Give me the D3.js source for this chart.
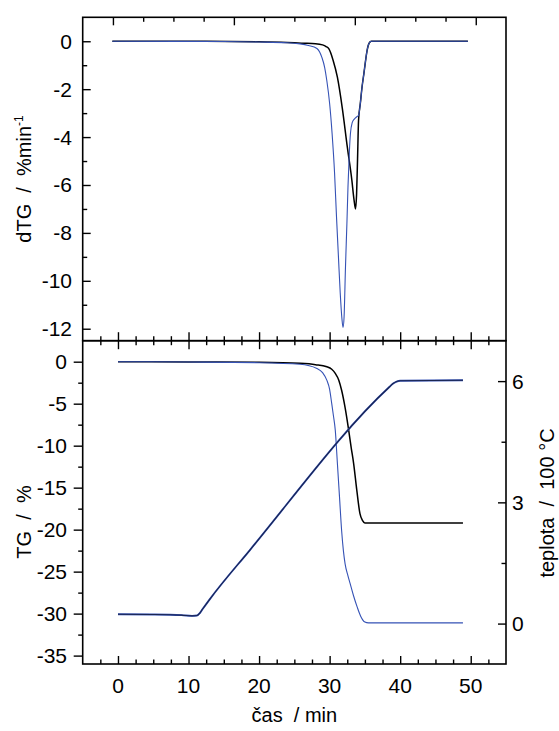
<!DOCTYPE html>
<html>
<head>
<meta charset="utf-8">
<script src="https://cdn.jsdelivr.net/npm/d3@7"></script>
<style>
  body { margin: 0; background: #fff; }
  svg { font-family: "Liberation Sans", Arial, sans-serif; }
  .frame { fill: none; stroke: #000; stroke-width: 1.6; }
  .tk line { stroke: #000; stroke-width: 1.4; }
  .tk path { display: none; }
  .lbl { font-size: 21px; fill: #000; }
  .ttl { font-size: 20px; fill: #000; white-space: pre; }
</style>
</head>
<body>
<div class="chart"></div>
<script>
// time in min
var dtgBlack = [[-0.8,0],[10,0],[20,-0.02],[24,-0.05],[26,-0.08],[28,-0.1],[29,-0.15],[29.5,-0.22],[29.9,-0.32],
  [30.5,-0.8],[31.1,-1.5],[31.8,-2.8],[32.5,-4.4],[33.15,-5.8],[33.45,-6.6],[33.67,-7.0],[33.82,-6.4],[33.96,-4.9],
  [34.1,-3.3],[34.35,-2.6],[34.6,-1.9],[34.85,-1.36],[35.1,-0.8],[35.3,-0.4],[35.6,-0.08],[35.9,0],[49.6,0]];
var dtgBlue = [[-0.8,0],[15,-0.01],[20,-0.03],[24,-0.06],[25.8,-0.11],[27,-0.18],[28.2,-0.3],[28.9,-0.67],[29.3,-1.1],
  [29.6,-1.64],[30.0,-2.6],[30.35,-3.85],[30.7,-5.5],[30.97,-7.3],[31.25,-9.0],[31.5,-10.5],[31.75,-11.6],[31.9,-11.95],
  [32.05,-11.5],[32.25,-9.4],[32.45,-7.6],[32.6,-6.1],[32.8,-4.6],[32.95,-3.85],[33.2,-3.4],[33.5,-3.25],[33.86,-3.15],
  [34.1,-3.1],[34.35,-2.6],[34.6,-1.9],[34.85,-1.36],[35.1,-0.8],[35.3,-0.4],[35.6,-0.08],[35.9,0],[49.6,0]];

var tgBlack = [[0,0],[10,-0.03],[20,-0.08],[25.8,-0.2],[28,-0.35],[29.6,-0.6],[30.3,-0.9],[30.8,-1.4],[31.3,-2.2],
  [31.7,-3.4],[32.2,-5.5],[32.7,-8.15],[33.05,-10.2],[33.4,-12.1],[33.85,-15.3],[34.3,-18.1],[34.65,-18.9],[35.0,-19.2],[48.9,-19.2]];
var tgBlue = [[0,0],[10,-0.04],[20,-0.12],[25.8,-0.3],[28.2,-0.8],[29.0,-1.3],[29.6,-2.2],[30.0,-3.3],[30.3,-5],
  [30.55,-6.5],[30.8,-8.15],[31.1,-12.1],[31.4,-16.1],[31.7,-20.1],[31.95,-22.5],[32.2,-24.1],[32.6,-25.5],[32.9,-26.4],
  [33.4,-27.9],[33.9,-29.2],[34.4,-30.3],[35.0,-31.0],[35.5,-31.1],[48.9,-31.1]];

// teplota in 100 °C
var tempBlack = [[0,0.23],[5,0.225],[9,0.21],[10.5,0.19],[11.2,0.2],[11.6,0.26],[12,0.36],[13,0.6],[18.7,1.82],
  [38.5,5.86],[39,5.94],[39.5,5.99],[40,6.01],[48.9,6.02]];
var tempBlue = [[0,0.23],[5,0.225],[9,0.21],[10.5,0.19],[11.2,0.2],[11.6,0.26],[12,0.36],[13,0.6],[18.7,1.82],
  [38.5,5.86],[39,5.94],[39.5,5.99],[40,6.01],[48.9,6.02]];

var xMajor = [0,10,20,30,40,50];
var xMinor = [-2.5,2.5,5,7.5,12.5,15,17.5,22.5,25,27.5,32.5,35,37.5,42.5,45,47.5,52.5];
var topMajor = [0,100,200,300];
var topMinor = [25,50,75,125,150,175,225,250,275];
var dtgMajor = [0,-2,-4,-6,-8,-10,-12];
var dtgMinor = [-1,-3,-5,-7,-9,-11];
var tgMajor = [0,-5,-10,-15,-20,-25,-30,-35];
var tgMinor = [-2.5,-7.5,-12.5,-17.5,-22.5,-27.5,-32.5];
var tempMajor = [0,3,6];
var tempMinor = [1.5,4.5];

var L = 82.7, R = 506, T1 = 17.3, B1 = 340.7, T2 = 340.7, B2 = 664;
var blue = "#3552b5";

var svg = d3.select(".chart").append("svg").attr("width",559).attr("height",731);

var x = d3.scaleLinear().domain([-5,55]).range([L,R]);
var xTop = d3.scaleLinear().domain([-25,325]).range([L,R]);
var y1 = d3.scaleLinear().domain([-12.5,1]).range([B1,T1]);
var y2 = d3.scaleLinear().domain([-36,2.5]).range([B2,T2]);
var y3 = d3.scaleLinear().domain([-1,7]).range([B2,T2]);

// tick marks only, labels are placed separately
function ticks(axis, vals, size, tr) {
  return svg.append("g").attr("class","tk").attr("transform",tr)
    .call(axis.tickValues(vals).tickSizeInner(size).tickSizeOuter(0).tickFormat(""));
}

// top panel: ticks point inward
ticks(d3.axisLeft(y1), dtgMajor, -8, "translate("+L+",0)");
ticks(d3.axisLeft(y1), dtgMinor, -4.5, "translate("+L+",0)");
svg.append("g").selectAll("text").data(dtgMajor).enter().append("text").attr("class","lbl")
  .attr("x", 72).attr("y", function(d){ return y1(d)+7.5; })
  .attr("text-anchor","end").text(function(d){ return d; });
ticks(d3.axisTop(xTop), topMajor, -8, "translate(0,"+T1+")");
ticks(d3.axisTop(xTop), topMinor, -4.5, "translate(0,"+T1+")");
ticks(d3.axisBottom(x), xMajor, -8.5, "translate(0,"+B1+")");
ticks(d3.axisBottom(x), xMinor, -4.5, "translate(0,"+B1+")");

// bottom panel
ticks(d3.axisLeft(y2), tgMajor, 9, "translate("+L+",0)");
ticks(d3.axisLeft(y2), tgMinor, 4.5, "translate("+L+",0)");
svg.append("g").selectAll("text").data(tgMajor).enter().append("text").attr("class","lbl")
  .attr("x", 67).attr("y", function(d){ return y2(d)+7.5; })
  .attr("text-anchor","end").text(function(d){ return d; });
ticks(d3.axisTop(x), xMajor, -8.5, "translate(0,"+T2+")");
ticks(d3.axisTop(x), xMinor, -4.5, "translate(0,"+T2+")");
ticks(d3.axisBottom(x), xMajor, -8, "translate(0,"+B2+")");
ticks(d3.axisBottom(x), xMinor, -4.5, "translate(0,"+B2+")");
svg.append("g").selectAll("text").data(xMajor).enter().append("text").attr("class","lbl")
  .attr("x", function(d){ return x(d); }).attr("y", 693)
  .attr("text-anchor","middle").text(function(d){ return d; });
ticks(d3.axisRight(y3), tempMajor, -8, "translate("+R+",0)");
ticks(d3.axisRight(y3), tempMinor, -4.5, "translate("+R+",0)");
svg.append("g").selectAll("text").data(tempMajor).enter().append("text").attr("class","lbl")
  .attr("x", 512).attr("y", function(d){ return y3(d)+7.5; })
  .attr("text-anchor","start").text(function(d){ return d; });

// frames
svg.append("rect").attr("class","frame").attr("x",L).attr("y",T1).attr("width",R-L).attr("height",B1-T1);
svg.append("rect").attr("class","frame").attr("x",L).attr("y",T2).attr("width",R-L).attr("height",B2-T2);

// curves
function draw(data, ys, col, w) {
  svg.append("path").datum(data)
    .attr("fill","none").attr("stroke",col).attr("stroke-width",w)
    .attr("d", d3.line().curve(d3.curveMonotoneX).x(function(d){ return x(d[0]); }).y(function(d){ return ys(d[1]); }));
}
draw(dtgBlack, y1, "#000", 1.5);
draw(dtgBlue, y1, blue, 1.1);
draw(tgBlack, y2, "#000", 1.5);
draw(tgBlue, y2, blue, 1.1);
draw(tempBlue, y3, blue, 1.9);
draw(tempBlack, y3, "#1a2550", 1.1);

// titles
var t1 = svg.append("text").attr("class","ttl").attr("transform","translate(31,"+((T1+B1)/2)+") rotate(-90)")
  .attr("text-anchor","middle");
t1.append("tspan").text("dTG  /  %min");
t1.append("tspan").attr("dy",-8).style("font-size","12px").text("-1");
svg.append("text").attr("class","ttl").attr("transform","translate(31,522) rotate(-90)")
  .attr("text-anchor","middle").text("TG  /  %");
svg.append("text").attr("class","ttl").attr("transform","translate(554,503) rotate(-90)")
  .attr("text-anchor","middle").text("teplota  /  100 °C");
svg.append("text").attr("class","ttl").attr("x",(L+R)/2).attr("y",722)
  .attr("text-anchor","middle").text("čas  / min");
</script>
</body>
</html>
